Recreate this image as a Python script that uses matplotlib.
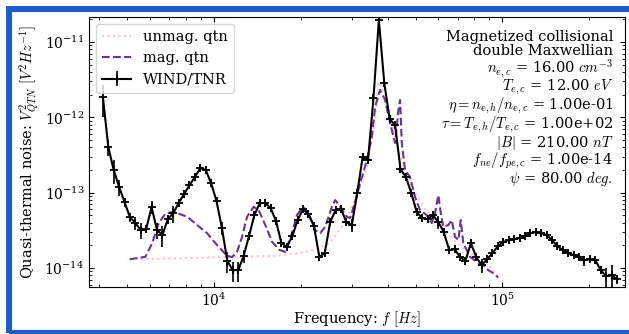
import matplotlib
matplotlib.use("Agg")
import matplotlib.pyplot as plt
from matplotlib.patches import Rectangle
import numpy as np

plt.rcParams['font.family'] = 'DejaVu Serif'
plt.rcParams['mathtext.fontset'] = 'cm'

# WIND/TNR measured spectrum (frequency in kHz, V^2/Hz)
tnr_freq_khz = [4.123, 4.305, 4.494, 4.693, 4.900, 5.117, 5.342, 5.578, 5.824, 6.081,
                6.350, 6.629, 6.922, 7.228, 7.546, 7.879, 8.228, 8.590, 8.969, 9.365,
                9.779, 10.21, 10.66, 11.13, 11.62, 12.14, 12.67, 13.23, 13.81, 14.42,
                15.06, 15.72, 16.42, 17.14, 17.90, 18.69, 19.51, 20.37, 21.27, 22.22,
                23.20, 24.22, 25.29, 26.41, 27.57, 28.79, 30.06, 31.38, 32.77, 34.21,
                35.73, 37.30, 38.95, 40.66, 42.46, 44.33, 46.29, 48.33, 50.47, 52.70,
                55.02, 57.45, 59.98, 62.63, 65.39, 68.28, 71.30, 74.43, 77.72, 81.15,
                84.73, 88.47, 92.38, 96.45, 100.7, 105.2, 109.8, 114.7, 119.7, 125.0,
                130.5, 136.3, 142.3, 148.6, 155.1, 162.0, 169.1, 176.6, 184.4, 192.5,
                201.0, 209.9, 219.1, 228.8, 238.9, 249.5]
tnr_v2 = [1.86e-12, 4.04e-13, 2.00e-13, 1.19e-13, 7.50e-14, 4.74e-14, 3.95e-14, 3.19e-14, 3.29e-14, 6.44e-14,
          3.19e-14, 2.74e-14, 4.46e-14, 5.36e-14, 7.28e-14, 9.58e-14, 1.26e-13, 1.61e-13, 2.12e-13, 2.00e-13,
          1.34e-13, 7.73e-14, 3.39e-14, 1.24e-14, 9.38e-15, 9.38e-15, 1.44e-14, 2.65e-14, 5.05e-14, 7.28e-14,
          7.28e-14, 6.24e-14, 4.20e-14, 2.14e-14, 1.90e-14, 2.65e-14, 4.33e-14, 6.05e-14, 5.20e-14, 3.60e-14,
          1.40e-14, 1.58e-14, 4.07e-14, 5.87e-14, 6.05e-14, 4.07e-14, 3.72e-14, 9.88e-14, 2.97e-13, 2.71e-13,
          1.80e-12, 1.96e-11, 2.86e-12, 9.48e-13, 7.90e-13, 2.06e-13, 1.61e-13, 9.88e-14, 5.52e-14, 4.60e-14,
          4.46e-14, 5.05e-14, 4.07e-14, 3.00e-14, 1.73e-14, 1.78e-14, 1.40e-14, 1.24e-14, 2.14e-14, 1.40e-14,
          1.09e-14, 1.31e-14, 1.58e-14, 1.95e-14, 2.21e-14, 2.35e-14, 2.42e-14, 2.49e-14, 2.65e-14, 2.90e-14,
          3.00e-14, 2.90e-14, 2.74e-14, 2.35e-14, 1.95e-14, 1.73e-14, 1.58e-14, 1.48e-14, 1.40e-14, 1.27e-14,
          1.31e-14, 1.27e-14, 9.38e-15, 7.80e-15, 8.05e-15, 7.13e-15]
# relative uncertainty of each TNR channel
tnr_err = [0.45, 0.25, 0.35, 0.25, 0.15, 0.15, 0.20, 0.25, 0.12, 0.20,
           0.25, 0.30, 0.15, 0.25, 0.12, 0.12, 0.12, 0.12, 0.12, 0.12,
           0.12, 0.12, 0.20, 0.30, 0.30, 0.30, 0.20, 0.12, 0.12, 0.12,
           0.12, 0.12, 0.12, 0.12, 0.12, 0.12, 0.12, 0.12, 0.12, 0.12,
           0.12, 0.12, 0.12, 0.12, 0.12, 0.12, 0.20, 0.12, 0.12, 0.12,
           0.12, 0.12, 0.12, 0.12, 0.12, 0.12, 0.12, 0.12, 0.12, 0.12,
           0.12, 0.12, 0.20, 0.12, 0.12, 0.12, 0.12, 0.12, 0.15, 0.12,
           0.20, 0.12, 0.12, 0.12, 0.12, 0.12, 0.12, 0.12, 0.12, 0.12,
           0.12, 0.12, 0.12, 0.12, 0.12, 0.12, 0.12, 0.12, 0.12, 0.15,
           0.12, 0.12, 0.12, 0.30, 0.35, 0.15]

# magnetized QTN model
mag_freq_khz = [5.11, 5.79, 6.11, 6.44, 6.80, 7.26, 8.08, 8.75, 9.47, 10.26,
                11.11, 11.56, 12.03, 12.52, 13.03, 13.73, 14.29, 15.07, 15.90, 16.90,
                17.68, 18.65, 19.41, 20.36, 21.28, 22.45, 23.36, 24.31, 25.64, 26.32,
                27.40, 28.90, 29.67, 30.88, 32.14, 33.89, 35.27, 36.21, 37.68, 39.21,
                40.80, 42.46, 43.59, 44.18, 44.79, 45.98, 47.85, 49.80, 51.82, 54.66,
                56.89, 58.40, 59.97, 61.13, 62.41, 64.94, 66.72, 68.49, 70.32, 71.68,
                73.18, 77.18, 81.41, 85.83, 89.32, 92.95, 96.72]
mag_v2 = [1.31e-14, 1.41e-14, 2.14e-14, 3.95e-14, 5.31e-14, 5.57e-14, 4.79e-14, 3.72e-14, 2.90e-14, 2.01e-14,
          1.45e-14, 1.40e-14, 1.64e-14, 2.60e-14, 4.79e-14, 6.50e-14, 5.87e-14, 3.72e-14, 2.23e-14, 1.73e-14,
          1.64e-14, 2.90e-14, 5.05e-14, 6.50e-14, 5.31e-14, 3.19e-14, 2.90e-14, 3.52e-14, 6.50e-14, 7.98e-14,
          6.50e-14, 4.79e-14, 4.60e-14, 7.57e-14, 1.34e-13, 2.71e-13, 5.52e-13, 1.38e-12, 2.31e-12, 1.70e-12,
          8.40e-13, 4.56e-13, 1.25e-12, 1.70e-12, 4.56e-13, 2.00e-13, 1.61e-13, 8.75e-14, 5.87e-14, 5.05e-14,
          3.95e-14, 5.36e-14, 9.29e-14, 5.36e-14, 3.52e-14, 3.72e-14, 4.33e-14, 2.60e-14, 2.35e-14, 4.33e-14,
          2.14e-14, 1.41e-14, 1.21e-14, 1.09e-14, 9.38e-15, 8.55e-15, 7.50e-15]

# unmagnetized QTN model
unmag_freq_khz = [5.11, 8.08, 11.11, 15.69, 19.92, 23.36, 25.30, 28.06, 30.88, 33.89,
                  36.21, 37.17, 39.21, 41.36, 43.59, 45.98, 49.12, 53.21, 58.40, 69.42,
                  79.26, 88.16, 95.48]
unmag_v2 = [1.31e-14, 1.35e-14, 1.40e-14, 1.44e-14, 1.58e-14, 1.84e-14, 2.21e-14, 3.72e-14, 7.98e-14, 2.19e-13,
            9.20e-13, 2.94e-12, 2.10e-12, 9.20e-13, 3.68e-13, 2.00e-13, 1.08e-13, 6.44e-14, 4.33e-14, 2.14e-14,
            1.48e-14, 1.16e-14, 8.05e-15]

# axis ticks shown
x_major = [1e4, 1e5]
y_major = [1e-14, 1e-13, 1e-12, 1e-11]

# model parameters
n_ec = 16.0
T_ec = 12.0
eta = 1.0e-1
tau = 1.0e2
B_nT = 210.0
fne_ratio = 1.0e-14
psi_deg = 80.0

fig = plt.figure(figsize=(6.29, 3.34), dpi=100)
ax = fig.add_axes([89 / 629, 1 - 287 / 334, 536 / 629, 270 / 334])

tnr_f = np.array(tnr_freq_khz) * 1e3
tnr_y = np.array(tnr_v2)
ax.plot(np.array(unmag_freq_khz) * 1e3, unmag_v2, ':', color='pink', lw=1.5, label='unmag. qtn')
ax.plot(np.array(mag_freq_khz) * 1e3, mag_v2, '--', color='#663399', lw=1.5, label='mag. qtn')
ax.errorbar(tnr_f, tnr_y, yerr=np.array(tnr_err) * tnr_y, color='k', marker='+', ms=6, mew=1.3,
            lw=1.5, elinewidth=1.2, label='WIND/TNR')

ax.set_xscale('log')
ax.set_yscale('log')
ax.set_xticks(x_major)
ax.set_yticks(y_major)
ax.set_xlim(3.69e3, 2.66e5)
ax.set_ylim(5.6e-15, 2.15e-11)
ax.tick_params(which='both', direction='in', top=True, right=True, labelsize=10)
ax.set_xlabel(r'Frequency: $f$ $[Hz]$', fontsize=10.5, labelpad=0)
ax.set_ylabel(r'Quasi-thermal noise: $V_{QTN}^2$ $[V^2Hz^{-1}]$', fontsize=10.5, labelpad=2)
ax.legend(loc='upper left', fontsize=10.5)

info = "\n".join([
    "Magnetized collisional",
    "double Maxwellian",
    r"$n_{e,c}$ = %.2f $cm^{-3}$" % n_ec,
    r"$T_{e,c}$ = %.2f $eV$" % T_ec,
    r"$\eta = n_{e,h}/n_{e,c}$ = %.2e" % eta,
    r"$\tau = T_{e,h}/T_{e,c}$ = %.2e" % tau,
    r"$|B|$ = %.2f $nT$" % B_nT,
    r"$f_{ne}/f_{pe,c}$ = %.2e" % fne_ratio,
    r"$\psi$ = %.2f $deg.$" % psi_deg,
])
ax.text(0.978, 0.95, info, transform=ax.transAxes, ha='right', va='top',
        fontsize=10.5, linespacing=0.93)

# blue frame around the panel
fig.patches.append(Rectangle((9, 1), 700, 324, transform=None, fill=False,
                             edgecolor='#1a5dcc', lw=4.3))

fig.savefig('out.png', dpi=100)
